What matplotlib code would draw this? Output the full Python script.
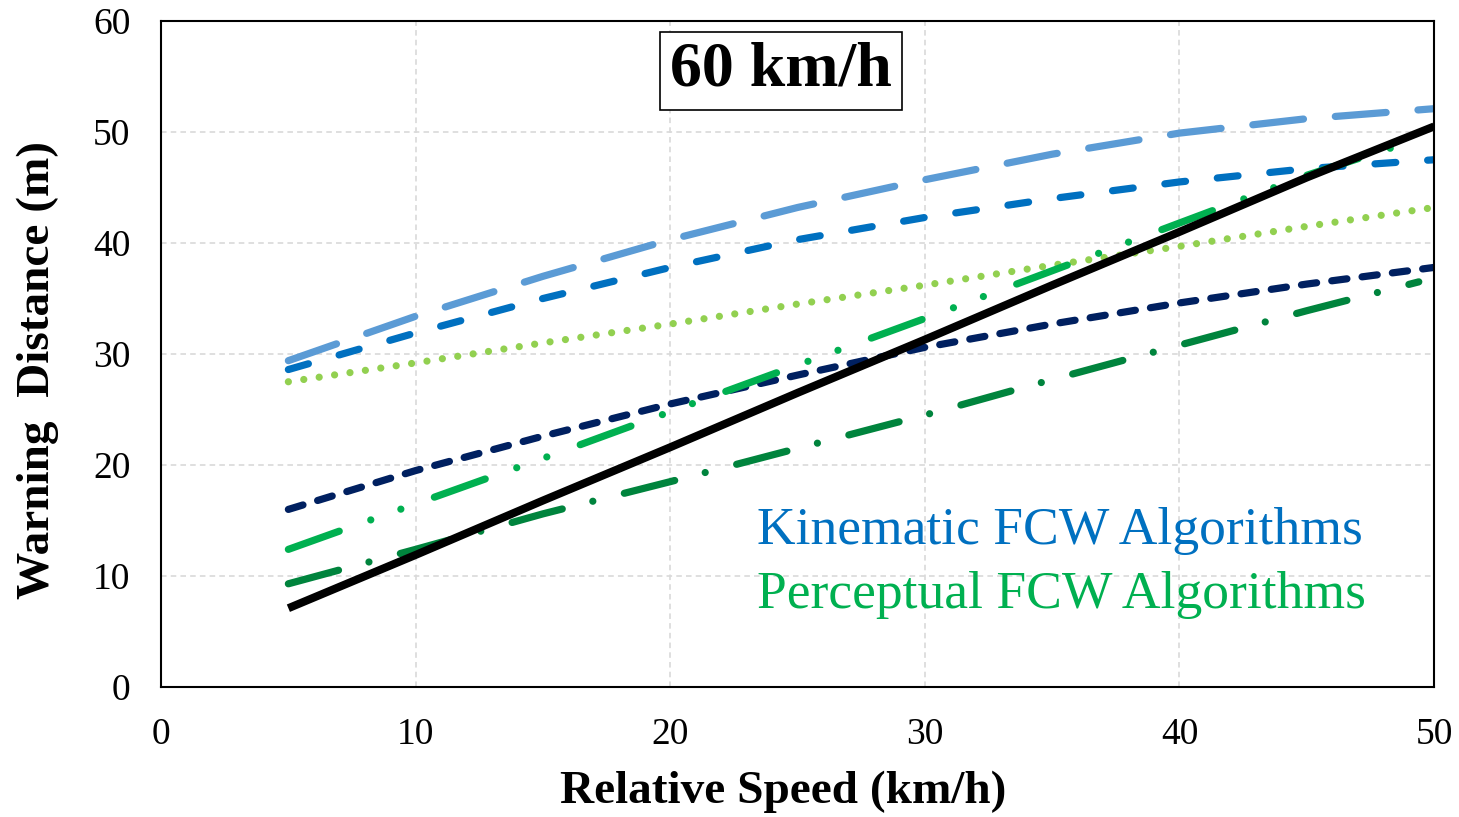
import matplotlib.pyplot as plt

plt.rcParams['font.family'] = ['Liberation Serif', 'DejaVu Serif']
plt.rcParams['lines.scale_dashes'] = False

# relative speed (km/h)
x_full = [5, 10, 15, 20, 25, 30, 35, 40, 45, 50]
x_green = [5, 10, 15, 20, 25, 30, 35, 40, 45, 48.9]
x_dkgreen = [5, 10, 15, 20, 25, 30, 35, 40, 45, 49.4]

# warning distance (m)
kin_light = [29.4, 33.4, 37.0, 40.3, 43.2, 45.7, 48.0, 49.9, 51.2, 52.1]
kin_blue = [28.6, 31.9, 35.0, 37.8, 40.3, 42.3, 44.0, 45.5, 46.7, 47.5]
kin_navy = [16.0, 19.5, 22.6, 25.5, 28.1, 30.6, 32.7, 34.6, 36.3, 37.8]
per_light = [27.5, 29.2, 31.0, 32.7, 34.5, 36.2, 38.0, 39.7, 41.5, 43.2]
per_green = [12.4, 16.5, 20.6, 24.8, 29.0, 33.2, 37.5, 41.8, 46.1, 49.0]
per_dark = [9.3, 12.4, 15.6, 18.5, 21.5, 24.5, 27.7, 30.8, 33.9, 36.5]
reference = [7.1, 11.9, 16.8, 21.6, 26.5, 31.3, 36.2, 41.0, 45.9, 50.5]

fig = plt.figure(figsize=(14.59, 8.17), dpi=100)
ax = fig.add_axes([0.1104, 0.1591, 0.8725, 0.8152])

lw = 5.2
ax.plot(x_full, kin_light, color='#5B9BD5', lw=lw, dashes=(36.7, 23), dash_capstyle='round')
ax.plot(x_full, kin_blue, color='#0070C0', lw=lw, dashes=(15, 23), dash_capstyle='round')
ax.plot(x_full, per_light, color='#92D050', lw=lw, dashes=(0.01, 11.2), dash_capstyle='round')
ax.plot(x_full, kin_navy, color='#002060', lw=lw, dashes=(11, 11), dash_capstyle='round')
ax.plot(x_green, per_green, color='#00B050', lw=lw,
        dashes=(38.9, 24.1, 0.01, 23, 0.01, 25.6), dash_capstyle='round')
ax.plot(x_dkgreen, per_dark, color='#00843D', lw=lw,
        dashes=(37.4, 22.7, 0.01, 23.4), dash_capstyle='round')
ax.plot(x_full, reference, color='black', lw=5.8, solid_capstyle='butt')

ax.set_xlim(0, 50)
ax.set_ylim(0, 60)
ax.set_xticks(range(0, 51, 10))
ax.set_yticks(range(0, 61, 10))
ax.tick_params(length=0, labelsize=27)
ax.tick_params(axis='x', pad=22)
ax.tick_params(axis='y', pad=22)
ax.grid(True, color='#D9D9D9', linestyle=(0, (4, 3)), linewidth=1.2)
ax.set_axisbelow(True)
for s in ax.spines.values():
    s.set_linewidth(1.5)

ax.set_xlabel('Relative Speed (km/h)', fontsize=34, fontweight='bold', va='center')
ax.set_ylabel('Warning  Distance (m)', fontsize=34, fontweight='bold', va='center')
ax.xaxis.set_label_coords(0.489, -0.158)
ax.yaxis.set_label_coords(-0.097, 0.476)

ax.text(24.35, 55.5, '60 km/h', fontsize=46, fontweight='bold', ha='center', va='center',
        bbox=dict(boxstyle='square,pad=0.15', facecolor='white', edgecolor='black', linewidth=1.2))
ax.text(23.4, 14.1, 'Kinematic FCW Algorithms', fontsize=38.5, color='#0070C0', va='center')
ax.text(23.4, 8.3, 'Perceptual FCW Algorithms', fontsize=38.5, color='#00B050', va='center')

fig.savefig('out.png', dpi=100)
